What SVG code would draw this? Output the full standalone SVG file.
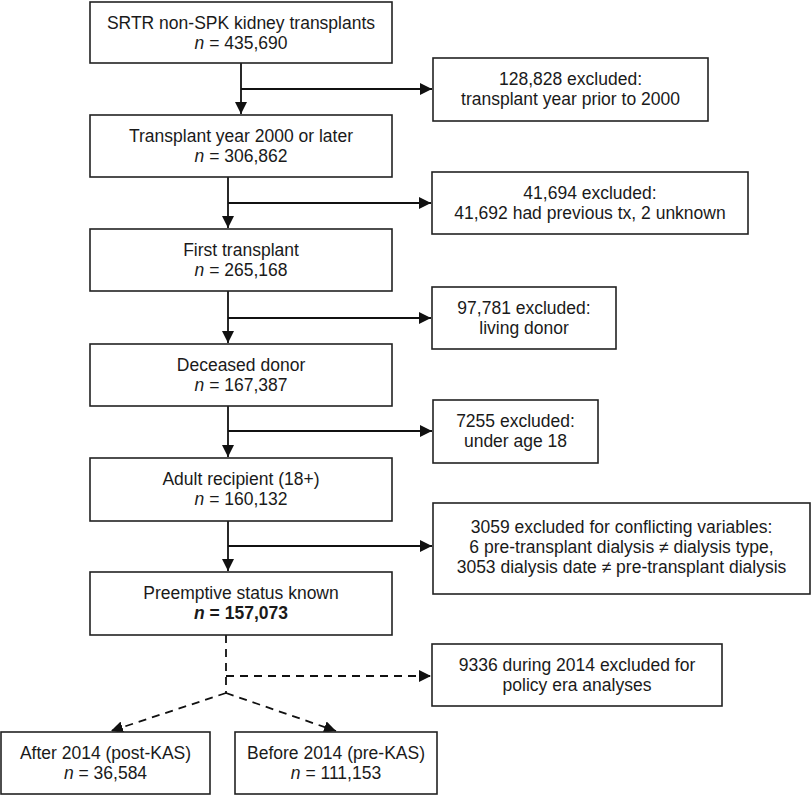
<svg xmlns="http://www.w3.org/2000/svg" width="812" height="795" viewBox="0 0 812 795">
<style>
.box{fill:#fff;stroke:#222;stroke-width:1.6}
text{font-family:"Liberation Sans",Arial,sans-serif;font-size:17.5px;fill:#1a1a1a;text-anchor:middle}
.ln{fill:none;stroke:#111;stroke-width:1.8}
.dash{fill:none;stroke:#111;stroke-width:1.8;stroke-dasharray:8,6}
.it{font-style:italic}
.b{font-weight:bold}
</style>
<defs>
<marker id="ah" markerUnits="userSpaceOnUse" markerWidth="14" markerHeight="12" refX="12" refY="6" orient="auto">
<path d="M0,0 L12,6 L0,12 Z" fill="#111"/>
</marker>
</defs>
<rect width="812" height="795" fill="#fff"/>
<g id="connectors">
<line class="ln" x1="241" y1="63" x2="241" y2="114" marker-end="url(#ah)"/>
<line class="ln" x1="241" y1="89" x2="432" y2="89" marker-end="url(#ah)"/>
<line class="ln" x1="228" y1="177" x2="228" y2="228" marker-end="url(#ah)"/>
<line class="ln" x1="228" y1="203" x2="431" y2="203" marker-end="url(#ah)"/>
<line class="ln" x1="228" y1="291" x2="228" y2="343" marker-end="url(#ah)"/>
<line class="ln" x1="228" y1="318" x2="431" y2="318" marker-end="url(#ah)"/>
<line class="ln" x1="228" y1="406" x2="228" y2="457" marker-end="url(#ah)"/>
<line class="ln" x1="228" y1="431" x2="432" y2="431" marker-end="url(#ah)"/>
<line class="ln" x1="228" y1="521" x2="228" y2="571" marker-end="url(#ah)"/>
<line class="ln" x1="228" y1="546" x2="432" y2="546" marker-end="url(#ah)"/>
<path class="dash" d="M226,635 L226,693"/>
<line class="dash" x1="226" y1="676" x2="431" y2="676" marker-end="url(#ah)"/>
<line class="dash" x1="226" y1="693" x2="111" y2="731" marker-end="url(#ah)"/>
<line class="dash" x1="226" y1="693" x2="336" y2="731" marker-end="url(#ah)"/>
</g>
<g id="n1"><rect class="box" x="90" y="2" width="302" height="61"/>
<text x="241" y="28.5">SRTR non-SPK kidney transplants</text>
<text x="241" y="48.5"><tspan class="it">n</tspan> = 435,690</text></g>
<g id="n2"><rect class="box" x="90" y="115" width="302" height="62"/>
<text x="241" y="141.5">Transplant year 2000 or later</text>
<text x="241" y="161.5"><tspan class="it">n</tspan> = 306,862</text></g>
<g id="n3"><rect class="box" x="90" y="229" width="302" height="62"/>
<text x="241" y="255.5">First transplant</text>
<text x="241" y="275.5"><tspan class="it">n</tspan> = 265,168</text></g>
<g id="n4"><rect class="box" x="90" y="344" width="302" height="62"/>
<text x="241" y="370.5">Deceased donor</text>
<text x="241" y="390.5"><tspan class="it">n</tspan> = 167,387</text></g>
<g id="n5"><rect class="box" x="90" y="458" width="302" height="63"/>
<text x="241" y="484.5">Adult recipient (18+)</text>
<text x="241" y="504.5"><tspan class="it">n</tspan> = 160,132</text></g>
<g id="n6"><rect class="box" x="90" y="572" width="302" height="63"/>
<text x="241" y="598.5">Preemptive status known</text>
<text x="241" y="618.5" class="b"><tspan class="it">n</tspan> = 157,073</text></g>
<g id="e1"><rect class="box" x="433" y="58" width="275" height="63"/>
<text x="570.5" y="84.5">128,828 excluded:</text>
<text x="570.5" y="104.5">transplant year prior to 2000</text></g>
<g id="e2"><rect class="box" x="432" y="172" width="316" height="62"/>
<text x="590" y="198.5">41,694 excluded:</text>
<text x="590" y="218.5">41,692 had previous tx, 2 unknown</text></g>
<g id="e3"><rect class="box" x="432" y="287" width="184" height="62"/>
<text x="524" y="313.5">97,781 excluded:</text>
<text x="524" y="333.5">living donor</text></g>
<g id="e4"><rect class="box" x="433" y="400" width="165" height="63"/>
<text x="515.5" y="426.5">7255 excluded:</text>
<text x="515.5" y="446.5">under age 18</text></g>
<g id="e5"><rect class="box" x="433" y="503" width="377" height="91"/>
<text x="621.5" y="532.5">3059 excluded for conflicting variables:</text>
<text x="621.5" y="552.5">6 pre-transplant dialysis ≠ dialysis type,</text>
<text x="621.5" y="572.5">3053 dialysis date ≠ pre-transplant dialysis</text></g>
<g id="e6"><rect class="box" x="432" y="644" width="290" height="62"/>
<text x="577" y="670.5">9336 during 2014 excluded for</text>
<text x="577" y="690.5">policy era analyses</text></g>
<g id="k1"><rect class="box" x="1" y="732" width="209" height="62"/>
<text x="105.5" y="758.5">After 2014 (post-KAS)</text>
<text x="105.5" y="778.5"><tspan class="it">n</tspan> = 36,584</text></g>
<g id="k2"><rect class="box" x="235" y="732" width="202" height="62"/>
<text x="336" y="758.5">Before 2014 (pre-KAS)</text>
<text x="336" y="778.5"><tspan class="it">n</tspan> = 111,153</text></g>
</svg>
